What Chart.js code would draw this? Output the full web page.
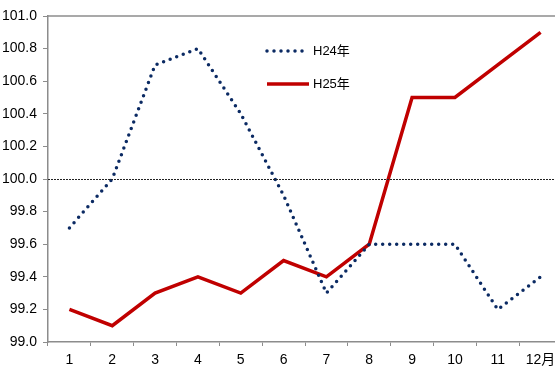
<!DOCTYPE html>
<html>
<head>
<meta charset="utf-8">
<script src="https://cdn.jsdelivr.net/npm/chart.js@4"></script>
<style>
  html, body { margin: 0; padding: 0; background: #fff; overflow: hidden; }
  #wrap { width: 565px; height: 369px; }
</style>
</head>
<body>
<div id="wrap"><canvas id="chart" width="565" height="369"></canvas></div>
<script>
// months along the bottom
const months = ["1", "2", "3", "4", "5", "6", "7", "8", "9", "10", "11", "12月"];
// index values per year
const h24 = [99.7, 100.0, 100.7, 100.8, 100.4, 99.9, 99.3, 99.6, 99.6, 99.6, 99.2, 99.4];
const h25 = [99.2, 99.1, 99.3, 99.4, 99.3, 99.5, 99.4, 99.6, 100.5, 100.5, 100.7, 100.9];
const seriesNames = ["H24年", "H25年"];
const baseLine = 100.0;

const fontFamily = "'Liberation Sans Narrow', 'Liberation Sans', 'Noto Sans CJK JP', sans-serif";
const axisColor = "#8c8c8c";
const navy = "#0b2a63";
const red = "#c00000";

// top frame line, the dotted 100 line and the legend inside the plot
const extras = {
    id: "extras",
    afterDraw(chart) {
        const ctx = chart.ctx;
        const area = chart.chartArea;
        const y = chart.scales.y;
        ctx.save();

        ctx.strokeStyle = axisColor;
        ctx.lineWidth = 1.5;
        ctx.beginPath();
        ctx.moveTo(area.left, area.top);
        ctx.lineTo(area.right, area.top);
        ctx.stroke();

        const yb = Math.round(y.getPixelForValue(baseLine)) + 0.5;
        ctx.strokeStyle = "#222";
        ctx.lineWidth = 1;
        ctx.setLineDash([2, 1]);
        ctx.beginPath();
        ctx.moveTo(area.left, yb);
        ctx.lineTo(area.right, yb);
        ctx.stroke();
        ctx.setLineDash([]);

        // legend
        ctx.font = "13px " + fontFamily;
        ctx.fillStyle = "#000";
        ctx.textBaseline = "middle";
        ctx.lineCap = "round";
        ctx.strokeStyle = navy;
        ctx.lineWidth = 3.5;
        ctx.setLineDash([0, 7]);
        ctx.beginPath();
        ctx.moveTo(267, 51);
        ctx.lineTo(306, 51);
        ctx.stroke();
        ctx.setLineDash([]);
        ctx.fillText(seriesNames[0], 313, 51);

        ctx.lineCap = "butt";
        ctx.strokeStyle = red;
        ctx.lineWidth = 3.5;
        ctx.beginPath();
        ctx.moveTo(267, 84);
        ctx.lineTo(309, 84);
        ctx.stroke();
        ctx.fillText(seriesNames[1], 313, 84);

        ctx.restore();
    }
};

new Chart(document.getElementById("chart").getContext("2d"), {
    type: "line",
    data: {
        labels: months,
        datasets: [{
            label: seriesNames[0],
            data: h24,
            borderColor: navy,
            borderWidth: 3.5,
            borderDash: [0, 7],
            borderCapStyle: "round",
            pointRadius: 0,
            tension: 0,
            fill: false
        }, {
            label: seriesNames[1],
            data: h25,
            borderColor: red,
            borderWidth: 3.5,
            pointRadius: 0,
            tension: 0,
            fill: false
        }]
    },
    options: {
        responsive: false,
        animation: false,
        layout: { padding: { top: 16, right: 3, left: 0, bottom: 0 } },
        plugins: {
            legend: { display: false },
            tooltip: { enabled: false }
        },
        scales: {
            x: {
                offset: true,
                grid: {
                    offset: true,
                    drawOnChartArea: false,
                    drawTicks: true,
                    tickLength: 4,
                    color: axisColor
                },
                border: { color: axisColor, width: 1.5 },
                ticks: {
                    color: "#000",
                    font: { family: fontFamily, size: 14 },
                    padding: 6,
                    maxRotation: 0,
                    autoSkip: false
                },
                afterFit(scale) { scale.height = 27; }
            },
            y: {
                min: 99.0,
                max: 101.0,
                grid: {
                    drawOnChartArea: false,
                    drawTicks: true,
                    tickLength: 5,
                    color: axisColor
                },
                border: { color: axisColor, width: 1.5 },
                ticks: {
                    stepSize: 0.2,
                    color: "#000",
                    font: { family: fontFamily, size: 14 },
                    padding: 6,
                    callback: v => Number(v).toFixed(1)
                },
                afterFit(scale) { scale.width = 48; }
            }
        }
    },
    plugins: [extras]
});
</script>
</body>
</html>
